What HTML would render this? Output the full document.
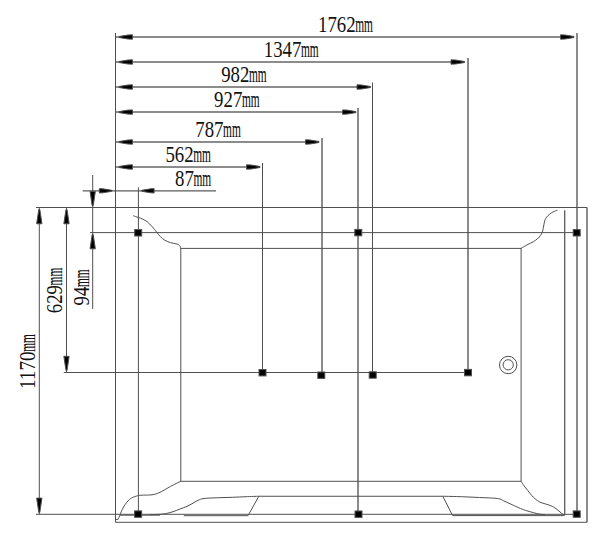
<!DOCTYPE html>
<html><head><meta charset="utf-8"><style>
html,body{margin:0;padding:0;background:#fff;width:600px;height:542px;overflow:hidden}
svg{display:block}
text.m{stroke:#111;stroke-width:0.15px}
text{font-family:"Liberation Serif",serif;font-size:23.5px;fill:#111;stroke:none}
</style></head><body>
<svg width="600" height="542" viewBox="0 0 600 542" stroke="#505050" stroke-width="1.0">
<line x1="115.5" y1="37.0" x2="574.0" y2="37.0" stroke="#666" stroke-width="1.5"/>
<polygon points="119.00,36.50 128.00,35.00 132.50,34.85 132.50,39.15 128.00,39.00 119.00,37.50" fill="#000"/>
<polygon points="574.00,36.50 565.00,35.00 560.50,34.85 560.50,39.15 565.00,39.00 574.00,37.50" fill="#000"/>
<text x="318.00" y="32.20" textLength="37.60" lengthAdjust="spacingAndGlyphs">1762</text><text x="355.20" y="32.20" textLength="17.7" lengthAdjust="spacingAndGlyphs" class="m">mm</text>
<line x1="115.5" y1="62.0" x2="464.5" y2="62.0" stroke="#666" stroke-width="1.5"/>
<polygon points="119.00,61.50 128.00,60.00 132.50,59.85 132.50,64.15 128.00,64.00 119.00,62.50" fill="#000"/>
<polygon points="464.50,61.50 455.50,60.00 451.00,59.85 451.00,64.15 455.50,64.00 464.50,62.50" fill="#000"/>
<text x="263.80" y="56.60" textLength="37.60" lengthAdjust="spacingAndGlyphs">1347</text><text x="301.00" y="56.60" textLength="17.7" lengthAdjust="spacingAndGlyphs" class="m">mm</text>
<line x1="115.5" y1="87.0" x2="370.5" y2="87.0" stroke="#666" stroke-width="1.5"/>
<polygon points="119.00,86.50 128.00,85.00 132.50,84.85 132.50,89.15 128.00,89.00 119.00,87.50" fill="#000"/>
<polygon points="370.50,86.50 361.50,85.00 357.00,84.85 357.00,89.15 361.50,89.00 370.50,87.50" fill="#000"/>
<text x="221.20" y="82.00" textLength="28.20" lengthAdjust="spacingAndGlyphs">982</text><text x="249.00" y="82.00" textLength="17.7" lengthAdjust="spacingAndGlyphs" class="m">mm</text>
<line x1="115.5" y1="112.1" x2="356.0" y2="112.1" stroke="#666" stroke-width="1.5"/>
<polygon points="119.00,111.60 128.00,110.10 132.50,109.95 132.50,114.25 128.00,114.10 119.00,112.60" fill="#000"/>
<polygon points="356.00,111.60 347.00,110.10 342.50,109.95 342.50,114.25 347.00,114.10 356.00,112.60" fill="#000"/>
<text x="214.10" y="107.00" textLength="28.20" lengthAdjust="spacingAndGlyphs">927</text><text x="241.90" y="107.00" textLength="17.7" lengthAdjust="spacingAndGlyphs" class="m">mm</text>
<line x1="115.5" y1="142.0" x2="319.0" y2="142.0" stroke="#666" stroke-width="1.5"/>
<polygon points="119.00,141.50 128.00,140.00 132.50,139.85 132.50,144.15 128.00,144.00 119.00,142.50" fill="#000"/>
<polygon points="319.00,141.50 310.00,140.00 305.50,139.85 305.50,144.15 310.00,144.00 319.00,142.50" fill="#000"/>
<text x="195.30" y="136.60" textLength="28.20" lengthAdjust="spacingAndGlyphs">787</text><text x="223.10" y="136.60" textLength="17.7" lengthAdjust="spacingAndGlyphs" class="m">mm</text>
<line x1="115.5" y1="167.0" x2="260.0" y2="167.0" stroke="#666" stroke-width="1.5"/>
<polygon points="119.00,166.50 128.00,165.00 132.50,164.85 132.50,169.15 128.00,169.00 119.00,167.50" fill="#000"/>
<polygon points="260.00,166.50 251.00,165.00 246.50,164.85 246.50,169.15 251.00,169.00 260.00,167.50" fill="#000"/>
<text x="165.40" y="161.60" textLength="28.20" lengthAdjust="spacingAndGlyphs">562</text><text x="193.20" y="161.60" textLength="17.7" lengthAdjust="spacingAndGlyphs" class="m">mm</text>
<line x1="82.7" y1="190.8" x2="216" y2="190.8" stroke="#5a5a5a" stroke-width="1.2"/>
<polygon points="111.80,190.30 102.80,188.80 99.30,188.65 99.30,192.95 102.80,192.80 111.80,191.30" fill="#000"/>
<polygon points="141.80,190.30 150.80,188.80 154.10,188.65 154.10,192.95 150.80,192.80 141.80,191.30" fill="#000"/>
<text x="175.00" y="185.90" textLength="18.80" lengthAdjust="spacingAndGlyphs">87</text><text x="193.40" y="185.90" textLength="17.7" lengthAdjust="spacingAndGlyphs" class="m">mm</text>
<line x1="115.5" y1="33" x2="115.5" y2="522.3"/>
<line x1="577" y1="33" x2="577" y2="514.3" stroke="#5a5a5a" stroke-width="1.4"/>
<line x1="468" y1="58" x2="468" y2="372.5" stroke="#5a5a5a" stroke-width="1.4"/>
<line x1="372.5" y1="82.5" x2="372.5" y2="375"/>
<line x1="358" y1="108" x2="358" y2="514.3" stroke="#5a5a5a" stroke-width="1.4"/>
<line x1="322" y1="138" x2="322" y2="375" stroke="#5a5a5a" stroke-width="1.4"/>
<line x1="262.5" y1="163" x2="262.5" y2="372.5"/>
<line x1="138.4" y1="187.3" x2="138.4" y2="514.3"/>
<line x1="39.3" y1="207.5" x2="39.3" y2="514.3"/>
<polygon points="38.80,209.50 36.65,223.80 41.95,223.80 39.80,209.50" fill="#000"/>
<polygon points="38.80,512.40 36.65,498.10 41.95,498.10 39.80,512.40" fill="#000"/>
<line x1="66.5" y1="207.5" x2="66.5" y2="372.5"/>
<polygon points="66.00,209.50 63.85,223.80 69.15,223.80 67.00,209.50" fill="#000"/>
<polygon points="66.00,370.60 63.85,356.30 69.15,356.30 67.00,370.60" fill="#000"/>
<line x1="92.7" y1="175" x2="92.7" y2="309"/>
<polygon points="92.20,205.70 90.05,191.40 95.35,191.40 93.20,205.70" fill="#000"/>
<polygon points="92.20,234.50 90.05,248.80 95.35,248.80 93.20,234.50" fill="#000"/>
<g transform="translate(34.90,389.00) rotate(-90)"><text x="0" y="0" textLength="37.60" lengthAdjust="spacingAndGlyphs">1170</text><text x="37.20" y="0" textLength="17.7" lengthAdjust="spacingAndGlyphs" class="m">mm</text></g>
<g transform="translate(62.20,313.20) rotate(-90)"><text x="0" y="0" textLength="28.20" lengthAdjust="spacingAndGlyphs">629</text><text x="27.80" y="0" textLength="17.7" lengthAdjust="spacingAndGlyphs" class="m">mm</text></g>
<g transform="translate(88.60,305.40) rotate(-90)"><text x="0" y="0" textLength="18.80" lengthAdjust="spacingAndGlyphs">94</text><text x="18.40" y="0" textLength="17.7" lengthAdjust="spacingAndGlyphs" class="m">mm</text></g>
<line x1="36" y1="207.5" x2="587" y2="207.5"/>
<line x1="90" y1="232.6" x2="577" y2="232.6"/>
<line x1="63.8" y1="372.5" x2="470.7" y2="372.5"/>
<line x1="36" y1="514.3" x2="577" y2="514.3"/>
<line x1="115.5" y1="522.3" x2="587" y2="522.3"/>
<line x1="587" y1="207.5" x2="587" y2="522.3" stroke="#5a5a5a" stroke-width="1.4"/>
<line x1="564.7" y1="210.3" x2="564.7" y2="515" stroke="#5a5a5a" stroke-width="1.3"/>
<rect x="180.8" y="248.4" width="340.3" height="232.9" fill="none"/>
<path d="M133.20,215.70 C134.05,216.00 136.70,216.92 138.30,217.50 C139.90,218.08 141.28,218.47 142.80,219.20 C144.32,219.93 145.87,220.68 147.40,221.90 C148.93,223.12 150.47,224.82 152.00,226.50 C153.53,228.18 155.22,230.32 156.60,232.00 C157.98,233.68 158.92,235.22 160.30,236.60 C161.68,237.98 163.22,239.30 164.90,240.30 C166.58,241.30 168.57,242.02 170.40,242.60 C172.23,243.18 174.53,243.45 175.90,243.80 C177.27,244.15 177.87,244.22 178.60,244.70 C179.33,245.18 179.93,246.07 180.30,246.70 C180.67,247.33 180.72,248.20 180.80,248.50" fill="none"/>
<path d="M557.50,210.20 C556.77,210.48 554.40,211.25 553.10,211.90 C551.80,212.55 550.78,213.23 549.70,214.10 C548.62,214.97 547.40,216.08 546.60,217.10 C545.80,218.12 545.33,219.03 544.90,220.20 C544.47,221.37 544.28,222.73 544.00,224.10 C543.72,225.47 543.48,227.03 543.20,228.40 C542.92,229.77 542.73,231.15 542.30,232.30 C541.87,233.45 541.40,234.22 540.60,235.30 C539.80,236.38 538.73,237.72 537.50,238.80 C536.27,239.88 534.78,240.87 533.20,241.80 C531.62,242.73 530.02,243.32 528.00,244.40 C525.98,245.48 522.25,247.65 521.10,248.30" fill="none"/>
<path d="M180.80,481.20 C179.12,482.05 173.95,484.55 170.70,486.30 C167.45,488.05 163.97,490.37 161.30,491.70 C158.63,493.03 156.70,493.75 154.70,494.30 C152.70,494.85 151.42,494.85 149.30,495.00 C147.18,495.15 143.92,495.08 142.00,495.20 C140.08,495.32 139.57,495.23 137.80,495.70 C136.03,496.17 133.03,497.12 131.40,498.00 C129.77,498.88 129.08,499.87 128.00,501.00 C126.92,502.13 125.85,503.40 124.90,504.80 C123.95,506.20 123.05,507.88 122.30,509.40 C121.55,510.92 120.93,512.62 120.40,513.90 C119.87,515.18 119.48,516.18 119.10,517.10 C118.72,518.02 118.27,519.02 118.10,519.40 L115.5,519.4" fill="none"/>
<path d="M521.10,481.40 C521.62,482.17 523.08,484.47 524.20,486.00 C525.32,487.53 526.58,489.07 527.80,490.60 C529.02,492.13 530.27,493.82 531.50,495.20 C532.73,496.58 533.82,497.75 535.20,498.90 C536.58,500.05 538.12,501.27 539.80,502.10 C541.48,502.93 543.47,503.30 545.30,503.90 C547.13,504.50 549.28,505.08 550.80,505.70 C552.32,506.32 553.18,506.83 554.40,507.60 C555.62,508.37 556.87,509.32 558.10,510.30 C559.33,511.28 560.73,512.68 561.80,513.50 C562.87,514.32 564.05,514.92 564.50,515.20" fill="none"/>
<line x1="258.8" y1="496.25" x2="442.8" y2="496.25"/>
<path d="M258.80,496.25 C256.67,496.32 250.38,496.52 246.00,496.70 C241.62,496.88 237.25,497.12 232.50,497.30 C227.75,497.48 222.25,497.55 217.50,497.75 C212.75,497.95 207.25,498.07 204.00,498.50 C200.75,498.93 200.00,499.43 198.00,500.30 C196.00,501.18 194.00,502.68 192.00,503.75 C190.00,504.82 188.00,505.88 186.00,506.75 C184.00,507.62 182.33,508.12 180.00,509.00 C177.67,509.88 174.83,511.17 172.00,512.00 C169.17,512.83 166.67,513.57 163.00,514.00 C159.33,514.43 152.17,514.50 150.00,514.60" fill="none"/>
<line x1="258.8" y1="496.25" x2="248.3" y2="515.2"/>
<line x1="183.8" y1="515.7" x2="248.3" y2="515.7"/>
<line x1="120" y1="515.2" x2="160" y2="515.2"/>
<path d="M442.80,496.25 C445.92,496.32 455.38,496.49 461.50,496.70 C467.62,496.91 473.50,497.20 479.50,497.50 C485.50,497.80 493.50,497.96 497.50,498.50 C501.50,499.04 501.25,499.80 503.50,500.75 C505.75,501.70 508.17,502.91 511.00,504.20 C513.83,505.49 517.85,507.40 520.50,508.50 C523.15,509.60 524.77,510.12 526.90,510.80 C529.03,511.48 531.30,512.07 533.30,512.60 C535.30,513.13 536.95,513.67 538.90,514.00 C540.85,514.33 543.98,514.50 545.00,514.60" fill="none"/>
<line x1="442.8" y1="496.25" x2="452.5" y2="515.4"/>
<line x1="452.5" y1="515.6" x2="564.5" y2="515.6"/>
<circle cx="508.2" cy="365" r="8.7" fill="none"/>
<circle cx="508.2" cy="364.8" r="5.1" fill="none"/>
<rect x="134.70" y="229.60" width="7" height="6.4" fill="#000"/>
<rect x="354.80" y="229.40" width="7" height="6.4" fill="#000"/>
<rect x="573.20" y="229.60" width="7" height="6.4" fill="#000"/>
<rect x="259.00" y="369.50" width="7" height="6.4" fill="#000"/>
<rect x="317.80" y="372.00" width="7" height="6.4" fill="#000"/>
<rect x="369.20" y="371.80" width="7" height="6.4" fill="#000"/>
<rect x="464.50" y="369.40" width="7" height="6.4" fill="#000"/>
<rect x="134.60" y="510.90" width="7" height="6.4" fill="#000"/>
<rect x="355.00" y="511.00" width="7" height="6.4" fill="#000"/>
<rect x="573.20" y="510.90" width="7" height="6.4" fill="#000"/>
</svg>
</body></html>
